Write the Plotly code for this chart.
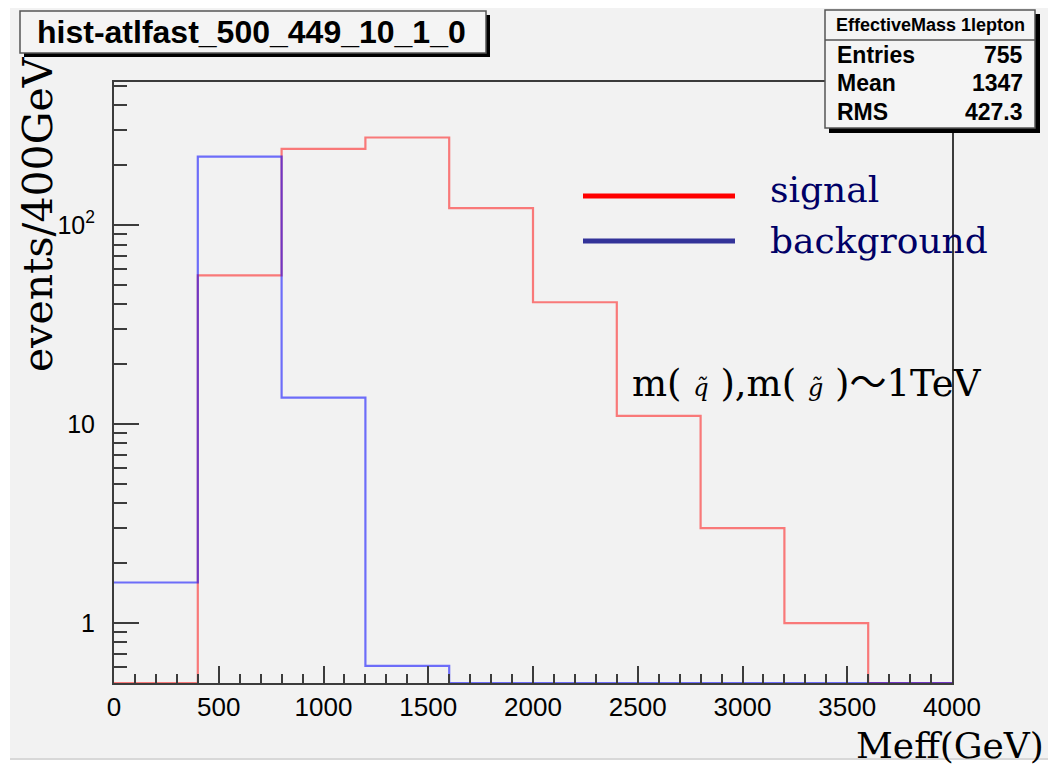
import plotly.graph_objects as go

# ---- data ----
bin_edges = [0, 400, 800, 1200, 1600, 2000, 2400, 2800, 3200, 3600, 4000]
signal = [0, 56, 242, 276, 122, 41, 11, 3, 1, 0]
background = [1.6, 221, 13.6, 0.61, 0, 0, 0, 0, 0, 0]
y_tick_vals = [1, 10, 100]
y_tick_text = ["1", "10", "10<sup>2</sup>"]
x_tick_vals = [0, 500, 1000, 1500, 2000, 2500, 3000, 3500, 4000]
stats_title = "EffectiveMass 1lepton"
stats_rows = [("Entries", "755"), ("Mean", "1347"), ("RMS", "427.3")]
hist_title = "hist-atlfast_500_449_10_1_0"

# ---- layout geometry (pixels) ----
W, H = 1048, 767
L, R, T, B = 114, 952, 82, 683
YMIN_LOG, YMAX_LOG = -0.301, 2.72
ymin = 10 ** YMIN_LOG


def X(px):
    return (px - L) / (R - L)


def Y(py):
    return (B - py) / (B - T)


def step(vals):
    ys = [v if v > 0 else ymin for v in vals]
    return ys + [ys[-1]]


fig = go.Figure()
fig.add_trace(go.Scatter(x=bin_edges, y=step(signal), mode="lines", line_shape="hv",
                         line=dict(color="rgba(255,0,0,0.5)", width=2.2), name="signal",
                         showlegend=False))
fig.add_trace(go.Scatter(x=bin_edges, y=step(background), mode="lines", line_shape="hv",
                         line=dict(color="rgba(0,0,255,0.55)", width=2.2), name="background",
                         showlegend=False))

GRAY = "#f2f2f2"
AX = "#3c3c3c"
SERIF = "DejaVu Serif, serif"
SANS = "Liberation Sans, Arial, sans-serif"

minor_y = [0.6, 0.7, 0.8, 0.9] + [k for k in range(2, 10)] + [k * 10 for k in range(2, 10)] + [200, 300, 400, 500]

fig.update_layout(
    width=W, height=H,
    margin=dict(l=L, r=W - R, t=T, b=H - B, pad=0),
    paper_bgcolor="white", plot_bgcolor=GRAY,
    showlegend=False,
    xaxis=dict(range=[0, 4000], showgrid=False, zeroline=False,
               showline=True, mirror=True, linecolor=AX, linewidth=2,
               ticks="inside", ticklen=17, tickwidth=2, tickcolor=AX,
               tickvals=x_tick_vals, ticklabelstandoff=0,
               minor=dict(ticks="inside", ticklen=9, tickwidth=2, tickcolor=AX, dtick=100, showgrid=False),
               tickfont=dict(family=SANS, size=26, color="black")),
    yaxis=dict(type="log", range=[YMIN_LOG, YMAX_LOG], showgrid=False, zeroline=False,
               showline=True, mirror=True, linecolor=AX, linewidth=2,
               ticks="inside", ticklen=25, tickwidth=2, tickcolor=AX,
               tickvals=y_tick_vals, ticktext=y_tick_text, ticklabelstandoff=12,
               minor=dict(ticks="inside", ticklen=13, tickwidth=2, tickcolor=AX, tickvals=minor_y, showgrid=False),
               tickfont=dict(family=SANS, size=25, color="black")),
)

shapes = []
# gray canvas
shapes.append(dict(type="rect", xref="paper", yref="paper", x0=X(10), x1=X(1048), y0=Y(8), y1=Y(758),
                   fillcolor=GRAY, line=dict(width=0), layer="below"))
shapes.append(dict(type="line", xref="paper", yref="paper", x0=X(10), x1=X(1048), y0=Y(759), y1=Y(759),
                   line=dict(color="#d8d8d8", width=2), layer="below"))
# title box
shapes.append(dict(type="rect", xref="paper", yref="paper", x0=X(24), x1=X(490), y0=Y(15), y1=Y(57),
                   fillcolor="black", line=dict(width=0)))
shapes.append(dict(type="rect", xref="paper", yref="paper", x0=X(20), x1=X(486), y0=Y(11), y1=Y(53),
                   fillcolor="#f4f4f4", line=dict(color="#555", width=1.5)))
# stats box
shapes.append(dict(type="rect", xref="paper", yref="paper", x0=X(829), x1=X(1040), y0=Y(14), y1=Y(133),
                   fillcolor="black", line=dict(width=0)))
shapes.append(dict(type="rect", xref="paper", yref="paper", x0=X(825), x1=X(1035), y0=Y(10), y1=Y(128),
                   fillcolor="#f4f4f4", line=dict(color="#555", width=1.5)))
shapes.append(dict(type="line", xref="paper", yref="paper", x0=X(825), x1=X(1035), y0=Y(40), y1=Y(40),
                   line=dict(color="#555", width=1.5)))
# legend lines
shapes.append(dict(type="line", xref="paper", yref="paper", x0=X(583), x1=X(735), y0=Y(196), y1=Y(196),
                   line=dict(color="#ff0000", width=5)))
shapes.append(dict(type="line", xref="paper", yref="paper", x0=X(583), x1=X(735), y0=Y(241), y1=Y(241),
                   line=dict(color="#333399", width=5)))
fig.update_layout(shapes=shapes)

ann = []
ann.append(dict(x=X(251), y=Y(32), text=hist_title, font=dict(family=SANS, size=32, color="black", weight="bold")))
ann.append(dict(x=X(930), y=Y(25), text=stats_title, font=dict(family=SANS, size=18, color="black", weight="bold")))
for i, (lab, val) in enumerate(stats_rows):
    yy = [55, 83, 112][i]
    ann.append(dict(x=X(835), y=Y(yy), text=lab, xanchor="left", font=dict(family=SANS, size=23, color="black", weight="bold")))
    ann.append(dict(x=X(1025), y=Y(yy), text=val, xanchor="right", font=dict(family=SANS, size=23, color="black", weight="bold")))
ann.append(dict(x=X(768), y=Y(190), text="signal", xanchor="left", font=dict(family=SERIF, size=36, color="#000066")))
ann.append(dict(x=X(768), y=Y(240), text="background", xanchor="left", font=dict(family=SERIF, size=36, color="#000066")))
ann.append(dict(x=X(630), y=Y(380),
                text=("m( <span style='font-size:24px'><i>q̃</i></span> ),m( <span style='font-size:24px'><i>g̃</i></span> )"
                      "<span style='font-family:Noto Sans CJK JP'>～</span>1TeV"),
                xanchor="left", font=dict(family=SERIF, size=37, color="black")))
ann.append(dict(x=X(38), y=Y(214), text="events/400GeV", textangle=-90, font=dict(family=SERIF, size=41, color="black")))
ann.append(dict(x=X(1046), y=Y(745), text="Meff(GeV)", xanchor="right", font=dict(family=SERIF, size=36, color="black")))
for a in ann:
    a.update(xref="paper", yref="paper", showarrow=False)
    a.setdefault("xanchor", "center")
    a.setdefault("yanchor", "middle")
fig.update_layout(annotations=ann)

fig.write_html("out.html")
